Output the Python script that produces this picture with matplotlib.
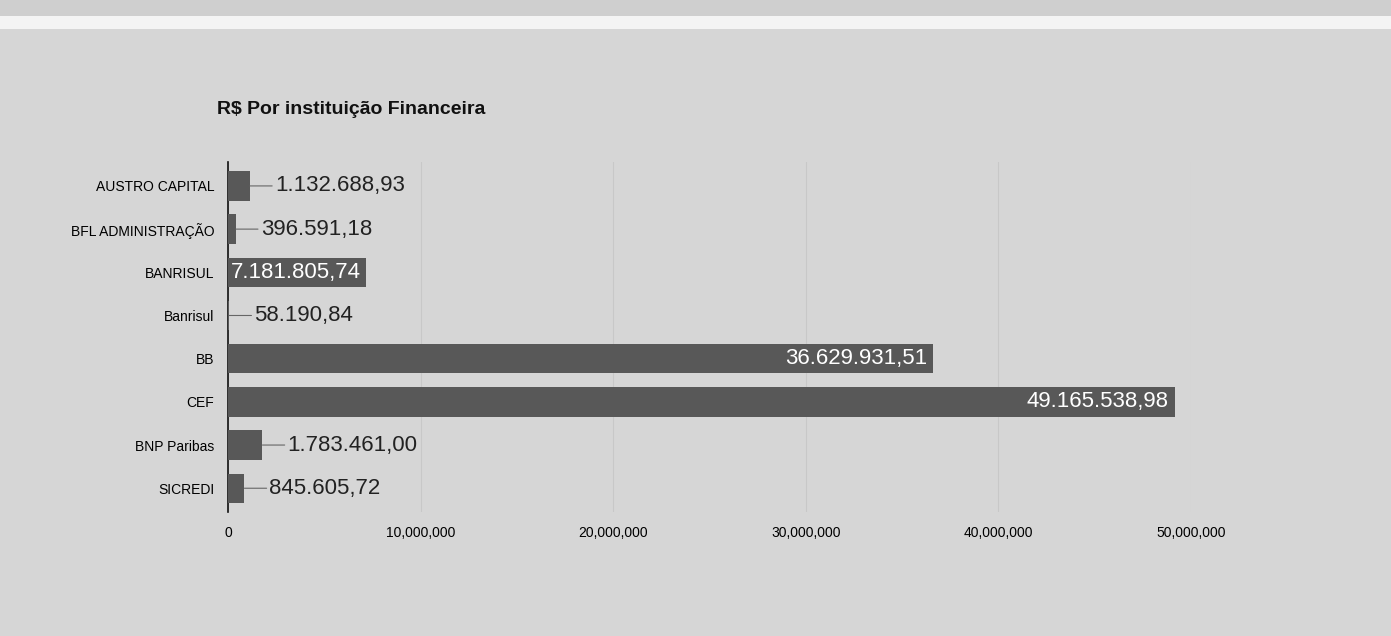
import matplotlib.pyplot as plt
from matplotlib.patches import Rectangle

plt.rcParams['font.family'] = ['Liberation Sans', 'DejaVu Sans']

# data
institutions = ["AUSTRO CAPITAL", "BFL ADMINISTRAÇÃO", "BANRISUL", "Banrisul",
                "BB", "CEF", "BNP Paribas", "SICREDI"]
values = [1132688.93, 396591.18, 7181805.74, 58190.84,
          36629931.51, 49165538.98, 1783461.00, 845605.72]
xticks = [0, 10000000, 20000000, 30000000, 40000000, 50000000]


def br(v):
    s = "{:,.2f}".format(v)
    return s.replace(",", "X").replace(".", ",").replace("X", ".")


bg = "#d6d6d6"
fig = plt.figure(figsize=(13.91, 6.36), dpi=100, facecolor=bg)
# white gap of the scanned page near the top
fig.add_artist(Rectangle((0, 0.955), 1, 0.02, transform=fig.transFigure,
                         facecolor="#f4f4f4", edgecolor="none"))
fig.add_artist(Rectangle((0, 0.975), 1, 0.025, transform=fig.transFigure,
                         facecolor="#cfcfcf", edgecolor="none"))

ax = fig.add_axes([0.164, 0.195, 0.692, 0.55])
ax.set_facecolor(bg)

ypos = list(range(len(institutions)))
ax.barh(ypos, values, height=0.68, color="#585858", zorder=3)

for y, v in zip(ypos, values):
    if v > 5000000:
        # big bars: white label inside, right aligned at the bar end
        ax.text(v - 300000, y, br(v), color="white", fontsize=16,
                ha="right", va="center", zorder=4)
    else:
        ax.annotate(br(v), xy=(v, y), xytext=(18, 0), textcoords="offset points",
                    fontsize=16, color="#222222", ha="left", va="center",
                    arrowprops=dict(arrowstyle="-", color="#666666", lw=0.8,
                                    shrinkA=0, shrinkB=0))

ax.set_yticks(ypos)
ax.set_yticklabels(institutions, fontsize=10)
ax.invert_yaxis()
ax.set_ylim(len(institutions) - 0.45, -0.55)

ax.set_xlim(0, 50000000)
ax.set_xticks(xticks)
ax.set_xticklabels(["{:,}".format(t) for t in xticks], fontsize=10)
ax.tick_params(length=0, pad=10)
ax.xaxis.grid(True, color="#c8c8c8", lw=0.8, zorder=0)

for side in ["top", "right", "bottom"]:
    ax.spines[side].set_visible(False)
ax.spines["left"].set_color("#111111")
ax.spines["left"].set_linewidth(1.2)

fig.text(0.156, 0.82, "R$ Por instituição Financeira", fontsize=14,
         fontweight="bold", color="#111111")

fig.savefig("out.png", dpi=100, facecolor=bg)
